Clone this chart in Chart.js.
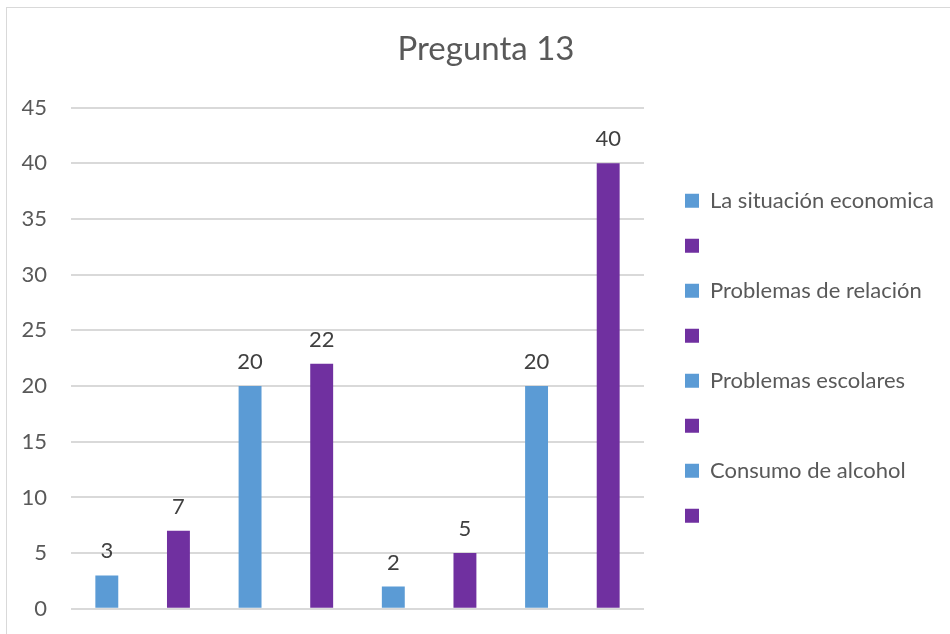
<!DOCTYPE html>
<html>
<head>
<meta charset="utf-8">
<title>Pregunta 13</title>
<script src="https://cdn.jsdelivr.net/npm/chart.js@4"></script>
<style>
    html, body { margin: 0; padding: 0; background: #fff; overflow: hidden; }
    #frame {
        position: absolute;
        left: 6px;
        top: 7px;
        width: 958px;
        height: 638px;
        border: 1px solid #d9d9d9;
    }
</style>
</head>
<body>
<div id="frame"><canvas id="chart"></canvas></div>
<script>
const categories = [""];
const series_names = [
    "La situación economica",
    "",
    "Problemas de relación",
    "",
    "Problemas escolares",
    "",
    "Consumo de alcohol",
    "",
];
const series_values = [3, 7, 20, 22, 2, 5, 20, 40];
const series_colors = [
    "#5b9bd5", "#7030a0", "#5b9bd5", "#7030a0",
    "#5b9bd5", "#7030a0", "#5b9bd5", "#7030a0",
];
const y_min = 0;
const y_max = 45;
const y_step = 5;

const font_family = "Lato, 'Open Sans', sans-serif";
const text_color = "#595959";
const legend_font_size = 22;
const legend_box = 14;
const legend_padding = 23;

// the legend sits right of the plot; work out its width so the plot ends where it should
function legendWidth() {
    const ctx = document.createElement("canvas").getContext("2d");
    ctx.font = `${legend_font_size}px ${font_family}`;
    const text_width = Math.max(...series_names.map((name) => ctx.measureText(name).width));
    return legend_padding + legend_box + legend_font_size / 2 + text_width + 10;
}

const value_labels = {
    id: "valueLabels",
    afterDatasetsDraw(chart) {
        const ctx = chart.ctx;
        ctx.save();
        ctx.font = `22px ${font_family}`;
        ctx.fillStyle = "#404040";
        ctx.textAlign = "center";
        ctx.textBaseline = "middle";
        chart.data.datasets.forEach((dataset, i) => {
            chart.getDatasetMeta(i).data.forEach((bar, j) => {
                ctx.fillText(dataset.data[j], bar.x, bar.y - 24);
            });
        });
        ctx.restore();
    },
};

const datasets = series_names.map((name, i) => ({
    label: name,
    data: [series_values[i]],
    backgroundColor: series_colors[i],
    borderWidth: 0,
    categoryPercentage: 1,
    barPercentage: 0.32,
}));

// empty room right of the legend, so the title stays centred on the whole frame
const edge_width = Math.max(0, 958 - 637 - 18 - legendWidth());

function emptyAxis(width, weight) {
    return {
        position: "right",
        display: true,
        weight: weight,
        grid: { display: false },
        ticks: { display: false },
        border: { display: false },
        afterFit(scale) {
            scale.width = width;
        },
    };
}

new Chart(document.getElementById("chart"), {
    type: "bar",
    data: {
        labels: categories,
        datasets: datasets,
    },
    options: {
        responsive: true,
        maintainAspectRatio: false,
        animation: false,
        devicePixelRatio: 1,
        layout: {
            padding: { left: 0, right: 0, top: 0, bottom: 37 },
        },
        scales: {
            x: { display: false },
            y: {
                min: y_min,
                max: y_max,
                ticks: {
                    stepSize: y_step,
                    padding: 24,
                    color: text_color,
                    font: { family: font_family, size: 22 },
                },
                grid: { color: "#d9d9d9", lineWidth: 2, drawTicks: false },
                border: { display: false },
                afterFit(scale) {
                    scale.width = 64;
                },
            },
            gap: emptyAxis(18, 0),
            edge: emptyAxis(edge_width, 2000),
        },
        plugins: {
            title: {
                display: true,
                text: "Pregunta 13",
                color: text_color,
                font: { family: font_family, size: 33, weight: "normal" },
                padding: { top: 22, bottom: 38 },
            },
            legend: {
                position: "right",
                fullSize: false,
                maxWidth: 400,
                labels: {
                    boxWidth: legend_box,
                    boxHeight: legend_box,
                    padding: legend_padding,
                    color: text_color,
                    font: { family: font_family, size: legend_font_size },
                },
            },
            tooltip: { enabled: false },
        },
    },
    plugins: [value_labels],
});
</script>
</body>
</html>
